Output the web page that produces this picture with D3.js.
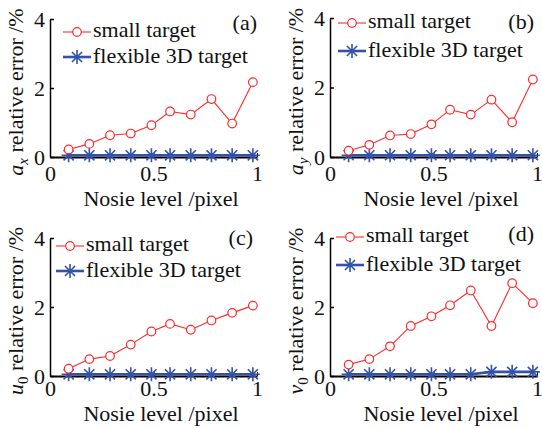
<!DOCTYPE html>
<html><head><meta charset="utf-8">
<script src="https://cdn.jsdelivr.net/npm/d3@7"></script>
<style>
body{margin:0;background:#fff}
text{font-family:"Liberation Serif","Times New Roman",serif;fill:#111}
</style>
</head><body>
<svg id="chart" width="542" height="428"></svg>
<script>
// ---- data ----
const noiseLevels = [0.09, 0.19, 0.29, 0.39, 0.49, 0.58, 0.68, 0.78, 0.88, 0.98];
const xTicks = [0, 0.5, 1];
const yTicks = [0, 2, 4];
const seriesNames = ["small target", "flexible 3D target"];
const panelLabels = ["(a)", "(b)", "(c)", "(d)"];
const yVarSymbols = ["a", "a", "u", "v"];
const yVarSubs = ["x", "y", "0", "0"];
const xAxisTitle = "Nosie level /pixel";
const yAxisTitleRest = " relative error /%";

const smallTargetAx = [0.22, 0.38, 0.63, 0.68, 0.92, 1.32, 1.23, 1.68, 0.97, 2.17];
const smallTargetAy = [0.18, 0.35, 0.62, 0.66, 0.94, 1.36, 1.22, 1.65, 1.00, 2.23];
const smallTargetU0 = [0.21, 0.49, 0.58, 0.91, 1.29, 1.51, 1.34, 1.61, 1.83, 2.04];
const smallTargetV0 = [0.33, 0.49, 0.86, 1.45, 1.73, 2.05, 2.48, 1.45, 2.69, 2.11];

const flexibleAx = [0.05, 0.05, 0.05, 0.05, 0.05, 0.05, 0.05, 0.05, 0.05, 0.05];
const flexibleAy = [0.05, 0.05, 0.05, 0.05, 0.05, 0.05, 0.05, 0.05, 0.05, 0.05];
const flexibleU0 = [0.05, 0.05, 0.05, 0.05, 0.05, 0.05, 0.05, 0.05, 0.05, 0.05];
const flexibleV0 = [0.05, 0.05, 0.05, 0.05, 0.05, 0.05, 0.05, 0.12, 0.12, 0.12];

const smallSeries = [smallTargetAx, smallTargetAy, smallTargetU0, smallTargetV0];
const flexSeries = [flexibleAx, flexibleAy, flexibleU0, flexibleV0];

// ---- layout ----
const layouts = [
  {x0: 50,  y0: 157, y4: 19,  legX: 63,  legY1: 32,  legY2: 57,  labX: 257, labY: 30,  tp: 8, tt: 49},
  {x0: 330, y0: 157, y4: 18,  legX: 338, legY1: 23,  legY2: 51,  labX: 534, labY: 29,  tp: 8, tt: 49},
  {x0: 50,  y0: 376, y4: 238, legX: 56,  legY1: 246, legY2: 271, labX: 253, labY: 245, tp: 4, tt: 45},
  {x0: 330, y0: 376, y4: 238, legX: 336, legY1: 237, legY2: 265, labX: 534, labY: 241, tp: 4, tt: 45}
];
const RED = "#ff2a2a", BLUE = "#3352a8";
const svg = d3.select("#chart");

function starPath(r) {
  const d = r * 0.72;
  return `M${-r},0L${r},0M0,${-r}L0,${r}M${-d},${-d}L${d},${d}M${-d},${d}L${d},${-d}`;
}

layouts.forEach((L, i) => {
  const g = svg.append("g");
  const x = d3.scaleLinear().domain([0, 1]).range([L.x0, L.x0 + 207]);
  const y = d3.scaleLinear().domain([0, 4]).range([L.y0, L.y4]);

  // axes
  const xa = g.append("g").attr("transform", `translate(0,${L.y0})`)
    .call(d3.axisBottom(x).tickValues(xTicks).tickSize(-4).tickSizeOuter(0).tickPadding(L.tp)
      .tickFormat(d => d === 0 ? "0" : d === 1 ? "1" : "0.5"));
  xa.select(".domain").attr("stroke", "#000").attr("stroke-width", 2);
  xa.selectAll("text").attr("font-size", 22).attr("font-family", "Liberation Serif").attr("fill", "#111");

  const ya = g.append("g").attr("transform", `translate(${L.x0},0)`)
    .call(d3.axisLeft(y).tickValues(yTicks).tickSize(-4).tickSizeOuter(0).tickPadding(5)
      .tickFormat(d3.format("d")));
  ya.select(".domain").attr("stroke", "#000").attr("stroke-width", 1.5);
  ya.selectAll("text").attr("font-size", 22).attr("font-family", "Liberation Serif").attr("fill", "#111");
  ya.selectAll(".tick line").attr("stroke-width", 1.5);

  // x title
  g.append("text").attr("x", L.x0 + 111).attr("y", L.y0 + L.tt)
    .attr("text-anchor", "middle").attr("font-size", 22).text(xAxisTitle);

  // y title
  const yt = g.append("text")
    .attr("transform", `translate(${L.x0 - 27},${(L.y0 + L.y4) / 2 + 4}) rotate(-90)`)
    .attr("text-anchor", "middle").attr("font-size", 22);
  yt.append("tspan").attr("font-style", "italic").text(yVarSymbols[i]);
  yt.append("tspan").attr("font-size", 15).attr("dy", 5)
    .attr("font-style", yVarSubs[i] === "0" ? "normal" : "italic").text(yVarSubs[i]);
  yt.append("tspan").attr("dy", -5).text(yAxisTitleRest);

  // panel label
  g.append("text").attr("x", L.labX).attr("y", L.labY).attr("text-anchor", "end")
    .attr("font-size", 22).text(panelLabels[i]);

  // flexible series (blue)
  const fl = noiseLevels.map((n, k) => [n, flexSeries[i][k]]);
  g.append("path").datum(fl).attr("fill", "none").attr("stroke", BLUE).attr("stroke-width", 2.6)
    .attr("d", d3.line().x(d => x(d[0])).y(d => y(d[1])));
  g.selectAll(".star").data(fl).join("path").attr("class", "star")
    .attr("transform", d => `translate(${x(d[0])},${y(d[1])})`)
    .attr("d", starPath(7)).attr("stroke", BLUE).attr("stroke-width", 1.6).attr("fill", "none");

  // small target series (red)
  const sm = noiseLevels.map((n, k) => [n, smallSeries[i][k]]);
  g.append("path").datum(sm).attr("fill", "none").attr("stroke", RED).attr("stroke-width", 1.1)
    .attr("d", d3.line().x(d => x(d[0])).y(d => y(d[1])));
  g.selectAll(".circ").data(sm).join("circle").attr("class", "circ")
    .attr("cx", d => x(d[0])).attr("cy", d => y(d[1])).attr("r", 4.3)
    .attr("fill", "#fff").attr("stroke", RED).attr("stroke-width", 1.2);

  // legend
  const lw = 28;
  g.append("line").attr("x1", L.legX).attr("x2", L.legX + lw).attr("y1", L.legY1).attr("y2", L.legY1)
    .attr("stroke", RED).attr("stroke-width", 1.1);
  g.append("circle").attr("cx", L.legX + lw / 2).attr("cy", L.legY1).attr("r", 4.3)
    .attr("fill", "#fff").attr("stroke", RED).attr("stroke-width", 1.2);
  g.append("text").attr("x", L.legX + lw + 2).attr("y", L.legY1 + 5).attr("font-size", 22).text(seriesNames[0]);

  g.append("line").attr("x1", L.legX).attr("x2", L.legX + lw).attr("y1", L.legY2).attr("y2", L.legY2)
    .attr("stroke", BLUE).attr("stroke-width", 2.6);
  g.append("path").attr("transform", `translate(${L.legX + lw / 2},${L.legY2})`)
    .attr("d", starPath(7)).attr("stroke", BLUE).attr("stroke-width", 1.6).attr("fill", "none");
  g.append("text").attr("x", L.legX + lw + 2).attr("y", L.legY2 + 6).attr("font-size", 22).text(seriesNames[1]);
});
</script>
</body></html>
